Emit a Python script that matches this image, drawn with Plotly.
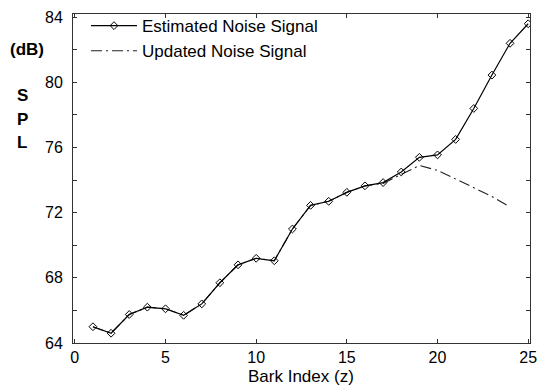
import plotly.graph_objects as go

bark = list(range(1, 26))
estimated = [65.0, 64.6, 65.75, 66.2, 66.1, 65.7, 66.4, 67.7, 68.8, 69.2, 69.05,
             71.0, 72.45, 72.7, 73.25, 73.65, 73.85, 74.5, 75.4, 75.55, 76.5,
             78.4, 80.45, 82.4, 83.6]
bark_upd = list(range(1, 25))
updated = [65.0, 64.6, 65.75, 66.2, 66.1, 65.7, 66.4, 67.7, 68.8, 69.2, 69.05,
           71.0, 72.45, 72.7, 73.25, 73.65, 73.8, 74.35, 74.9, 74.6, 74.05,
           73.55, 73.0, 72.35]
ytick_vals = [64, 66, 68, 70, 72, 74, 76, 78, 80, 82, 84]
ytick_text = ["64", "", "68", "", "72", "", "76", "", "80", "", "84"]
xtick_vals = [0, 5, 10, 15, 20, 25]

FONT = "Liberation Sans, Arial, sans-serif"
W, H = 551, 385
L, R, T, B = 73, 21, 8, 42


def px_to_paper(px, py):
    return (px - L) / (W - L - R), 1 - (py - T) / (H - T - B)


fig = go.Figure()
fig.add_trace(go.Scatter(
    x=bark_upd, y=updated, mode="lines", name="Updated Noise Signal",
    line=dict(color="#222", width=1.1, dash="11px,4px,2px,4px"),
    legendrank=2,
))
fig.add_trace(go.Scatter(
    x=bark, y=estimated, mode="lines+markers", name="Estimated Noise Signal",
    line=dict(color="black", width=1.2),
    marker=dict(symbol="diamond-open", size=6, color="black", line=dict(width=1)),
    legendrank=1,
))

lx, ly = px_to_paper(86, 2)
fig.update_layout(
    width=W, height=H,
    margin=dict(l=L, r=R, t=T, b=B),
    paper_bgcolor="white", plot_bgcolor="white",
    font=dict(family=FONT, size=16, color="black"),
    showlegend=True,
    legend=dict(x=lx, y=ly, xanchor="left", yanchor="top",
                bgcolor="rgba(0,0,0,0)", borderwidth=0,
                font=dict(size=17), tracegroupgap=0, itemwidth=46),
    xaxis=dict(range=[-0.1, 25.1], tickvals=xtick_vals, ticks="inside",
               ticklen=4, tickcolor="#333", showline=True, linecolor="#333",
               linewidth=1, mirror="ticks", showgrid=False, zeroline=False,
               tickfont=dict(size=16)),
    yaxis=dict(range=[64, 84.2], tickvals=ytick_vals, ticktext=ytick_text,
               ticks="inside", ticklen=4, tickcolor="#333", showline=True,
               linecolor="#333", linewidth=1, mirror="ticks", showgrid=False,
               zeroline=False, tickfont=dict(size=16), ticklabelstandoff=6),
)

anns = [("Bark Index (z)", 301, 377, False), ("(dB)", 27, 44, True),
        ("S", 22, 91, True), ("P", 22, 115, True), ("L", 22, 139, True)]
for txt, px, py, bold in anns:
    ax, ay = px_to_paper(px, py)
    fig.add_annotation(text=f"<b>{txt}</b>" if bold else txt, x=ax, y=ay,
                       xref="paper", yref="paper", showarrow=False,
                       xanchor="center", yanchor="middle",
                       font=dict(size=17))

fig.write_html("out.html")
